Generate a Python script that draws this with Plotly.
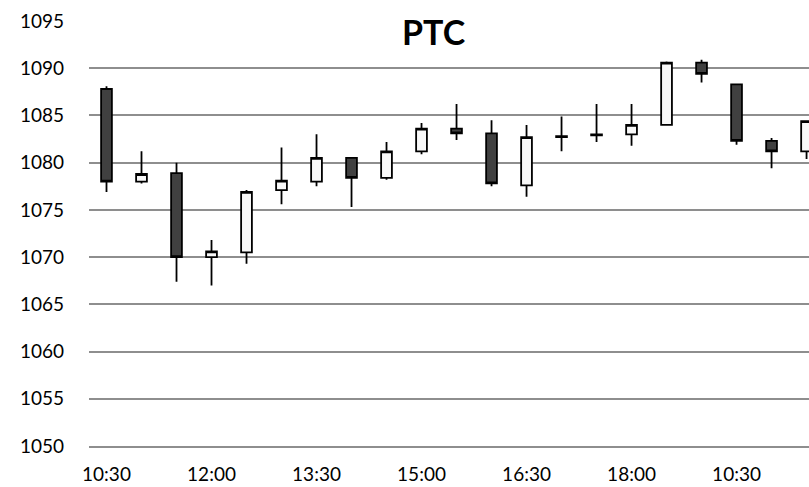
import plotly.graph_objects as go

title_text = "PTC"

times = ["10:30", "11:00", "11:30", "12:00", "12:30", "13:00", "13:30", "14:00",
         "14:30", "15:00", "15:30", "16:00", "16:30", "17:00", "17:30", "18:00",
         "18:30", "19:00", "10:30", "11:00", "11:30"]

open_ = [1087.8, 1078.0, 1078.9, 1070.0, 1070.5, 1077.1, 1078.0, 1080.5, 1078.4, 1081.2,
         1083.6, 1083.1, 1077.6, 1082.7, 1082.9, 1083.0, 1084.0, 1090.6, 1088.3, 1082.3, 1081.2]
high = [1088.1, 1081.2, 1080.0, 1071.8, 1077.1, 1081.6, 1083.0, 1080.5, 1082.2, 1084.2,
        1086.2, 1084.5, 1084.0, 1084.9, 1086.2, 1086.2, 1090.7, 1090.9, 1088.3, 1082.6, 1084.4]
low = [1076.9, 1077.8, 1067.4, 1067.0, 1069.3, 1075.6, 1077.5, 1075.3, 1078.2, 1080.9,
       1082.4, 1077.5, 1076.4, 1081.2, 1082.2, 1081.8, 1084.0, 1088.5, 1081.9, 1079.4, 1080.4]
close = [1078.0, 1078.8, 1070.0, 1070.6, 1076.9, 1078.1, 1080.5, 1078.4, 1081.2, 1083.6,
         1083.1, 1077.8, 1082.7, 1082.8, 1083.0, 1084.0, 1090.6, 1089.4, 1082.3, 1081.2, 1084.4]

y_ticks = [1050, 1055, 1060, 1065, 1070, 1075, 1080, 1085, 1090, 1095]

idx = list(range(len(times)))
label_idx = idx[::3]

FONT = "Lato, 'Open Sans', sans-serif"
GRID = "#8e8e8e"

fig = go.Figure(go.Candlestick(
    x=idx, open=open_, high=high, low=low, close=close,
    increasing=dict(fillcolor="#f8f8f8", line=dict(color="#000000", width=1.8)),
    decreasing=dict(fillcolor="#404040", line=dict(color="#000000", width=1.8)),
    whiskerwidth=0,
    hoverinfo="x+y",
))

fig.update_layout(
    width=809, height=487,
    margin=dict(l=88.5, r=0, t=21, b=41, pad=0, autoexpand=False),
    paper_bgcolor="white", plot_bgcolor="white",
    showlegend=False,
    boxgap=0.56,
    font=dict(family=FONT, size=19, color="#000000"),
    xaxis=dict(
        range=[-0.5, 20.07], automargin=False,
        tickmode="array", tickvals=label_idx, ticktext=[times[i] for i in label_idx],
        showgrid=False, zeroline=False,
        showline=True, linecolor=GRID, linewidth=1.6,
        ticks="",
        rangeslider=dict(visible=False),
        ticklabelstandoff=10,
        tickfont=dict(family=FONT, size=19),
    ),
    yaxis=dict(
        range=[1050, 1095], automargin=False,
        tickmode="array", tickvals=y_ticks,
        showgrid=True, gridcolor=GRID, gridwidth=1.6,
        zeroline=False, showline=False, ticks="",
        ticklabelstandoff=24,
        tickfont=dict(family=FONT, size=19),
    ),
    annotations=[dict(
        text="<b>" + title_text + "</b>", xref="paper", yref="paper",
        x=(433.5 - 88.5) / (809 - 88.5), y=1 - (31.5 - 21) / 425,
        xanchor="center", yanchor="middle", showarrow=False,
        bgcolor="white", borderpad=0,
        font=dict(family=FONT, size=34, color="#000000"),
    )],
)

fig.write_html(
    "out.html",
    config={"displayModeBar": False},
    post_script="document.body.style.margin='0';document.body.style.overflow='hidden';",
)
